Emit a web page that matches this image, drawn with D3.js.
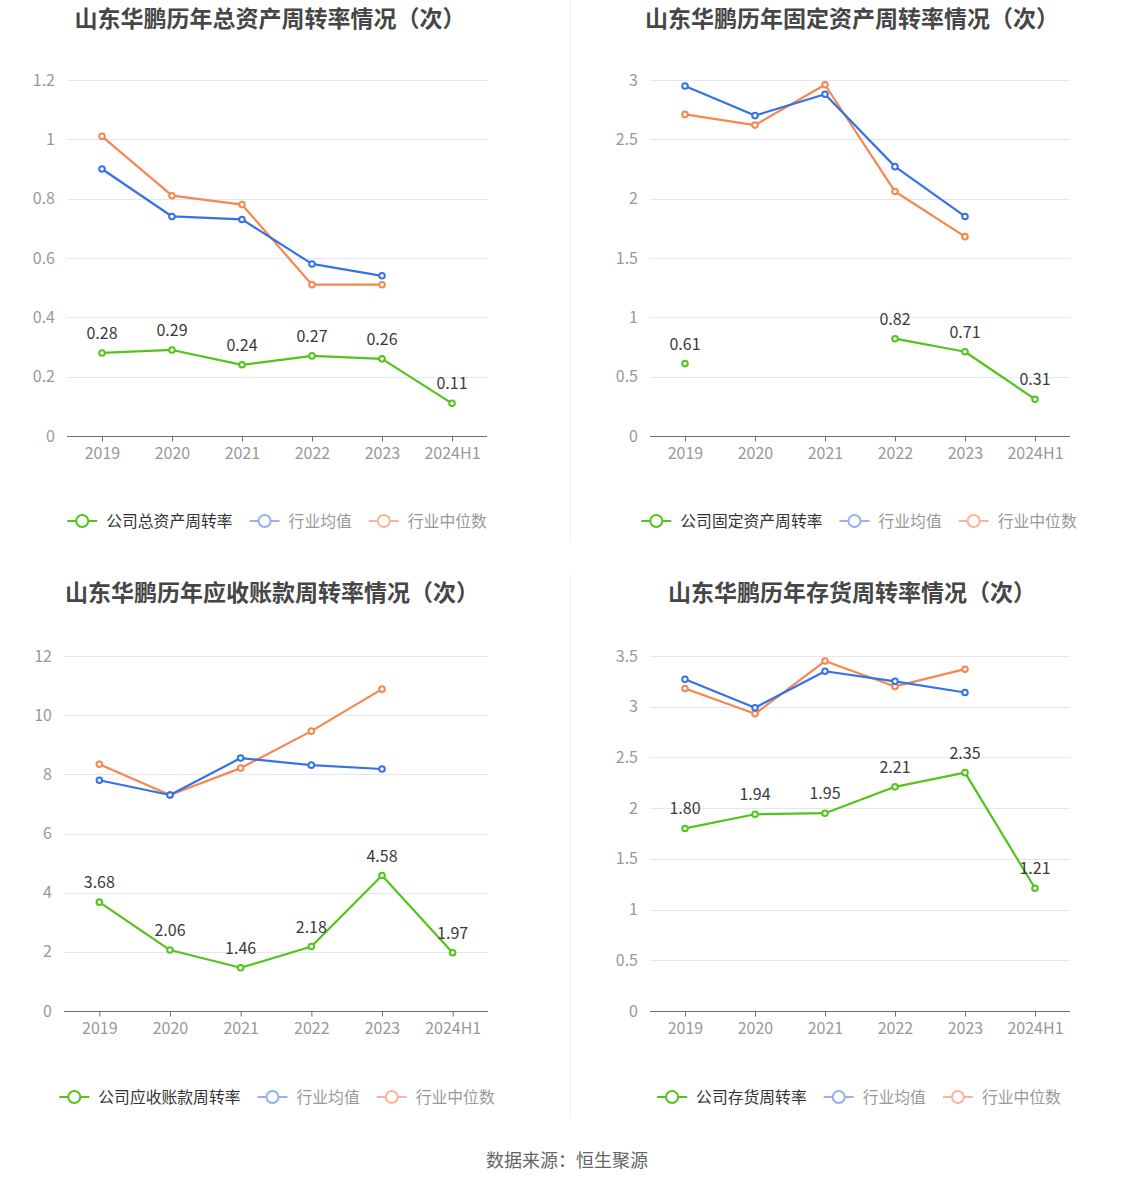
<!DOCTYPE html>
<html><head><meta charset="utf-8">
<script src="https://cdn.jsdelivr.net/npm/d3@7"></script>
<style>
html,body{margin:0;padding:0;background:#fff;}
svg{display:block;font-family:"Noto Sans CJK SC","Noto Sans",sans-serif;}
</style></head>
<body>
<svg id="c" width="1134" height="1188"></svg>
<script>
const categories = ["2019","2020","2021","2022","2023","2024H1"];

const totalAssetCompany = [0.28,0.29,0.24,0.27,0.26,0.11];
const totalAssetAvg     = [0.90,0.74,0.73,0.58,0.54,null];
const totalAssetMedian  = [1.01,0.81,0.78,0.51,0.51,null];
const totalAssetTicks   = [0,0.2,0.4,0.6,0.8,1,1.2];

const fixedAssetCompany = [0.61,null,null,0.82,0.71,0.31];
const fixedAssetAvg     = [2.95,2.70,2.88,2.27,1.85,null];
const fixedAssetMedian  = [2.71,2.62,2.96,2.06,1.68,null];
const fixedAssetTicks   = [0,0.5,1,1.5,2,2.5,3];

const receivableCompany = [3.68,2.06,1.46,2.18,4.58,1.97];
const receivableAvg     = [7.80,7.30,8.55,8.31,8.18,null];
const receivableMedian  = [8.34,7.30,8.21,9.46,10.88,null];
const receivableTicks   = [0,2,4,6,8,10,12];

const inventoryCompany  = [1.80,1.94,1.95,2.21,2.35,1.21];
const inventoryAvg      = [3.27,2.99,3.35,3.25,3.14,null];
const inventoryMedian   = [3.18,2.93,3.45,3.20,3.37,null];
const inventoryTicks    = [0,0.5,1,1.5,2,2.5,3,3.5];

const titles = ["山东华鹏历年总资产周转率情况（次）","山东华鹏历年固定资产周转率情况（次）","山东华鹏历年应收账款周转率情况（次）","山东华鹏历年存货周转率情况（次）"];
const companyNames = ["公司总资产周转率","公司固定资产周转率","公司应收账款周转率","公司存货周转率"];
const avgName = "行业均值", medianName = "行业中位数";
const sourceText = "数据来源：恒生聚源";

const GREEN="#52c41a", BLUE="#3572e6", ORANGE="#f7864f";
const BLUE_L="#92b2f2", ORANGE_L="#fbb49a";

const panels = [
  {title:titles[0], name:companyNames[0], company:totalAssetCompany, avg:totalAssetAvg, median:totalAssetMedian, ticks:totalAssetTicks,
   x0:67,x1:487,y0:436,y1:80,titleX:270,titleY:19,legendX:277,legendY:521},
  {title:titles[1], name:companyNames[1], company:fixedAssetCompany, avg:fixedAssetAvg, median:fixedAssetMedian, ticks:fixedAssetTicks,
   x0:650,x1:1070,y0:436,y1:80,titleX:852,titleY:19,legendX:859,legendY:521},
  {title:titles[2], name:companyNames[2], company:receivableCompany, avg:receivableAvg, median:receivableMedian, ticks:receivableTicks,
   x0:64,x1:488,y0:1011,y1:656,titleX:272,titleY:593,legendX:277,legendY:1097},
  {title:titles[3], name:companyNames[3], company:inventoryCompany, avg:inventoryAvg, median:inventoryMedian, ticks:inventoryTicks,
   x0:650,x1:1070,y0:1011,y1:656,titleX:852,titleY:593,legendX:859,legendY:1097}
];

const svg = d3.select("#c");

svg.append("line").attr("x1",570.5).attr("x2",570.5).attr("y1",0).attr("y2",541).attr("stroke","#eeeeee");
svg.append("line").attr("x1",570.5).attr("x2",570.5).attr("y1",575).attr("y2",1117).attr("stroke","#eeeeee");

panels.forEach(p=>{
  const g = svg.append("g");
  const x = d3.scalePoint().domain(categories).range([p.x0,p.x1]).padding(0.5);
  const yMax = p.ticks[p.ticks.length-1];
  const y = d3.scaleLinear().domain([0,yMax]).range([p.y0,p.y1]);

  g.append("text").attr("x",p.titleX).attr("y",p.titleY).attr("dy","0.36em").attr("text-anchor","middle")
    .attr("font-size",23).attr("font-weight","bold").attr("fill","#464646").text(p.title);

  g.selectAll(".grid").data(p.ticks.filter(t=>t>0)).enter().append("line")
    .attr("x1",p.x0).attr("x2",p.x1).attr("y1",d=>Math.round(y(d))+0.5).attr("y2",d=>Math.round(y(d))+0.5)
    .attr("stroke","#e3e7f1").attr("stroke-width",1);

  const ya = g.append("g").attr("transform",`translate(${p.x0-9},0)`)
    .call(d3.axisLeft(y).tickValues(p.ticks).tickFormat(d3.format("")).tickSize(0));
  ya.select(".domain").remove();
  ya.selectAll("text").attr("font-size",16).attr("fill","#999").attr("font-family","'Noto Sans CJK SC','Noto Sans',sans-serif");

  const xa = g.append("g").attr("transform",`translate(0,${Math.round(p.y0)+0.5})`)
    .call(d3.axisBottom(x).tickSize(5).tickPadding(6));
  xa.select(".domain").attr("d",`M${p.x0},0H${p.x1}`).attr("stroke","#6e7079");
  xa.selectAll(".tick line").attr("stroke","#6e7079");
  xa.selectAll("text").attr("font-size",16).attr("fill","#999").attr("font-family","'Noto Sans CJK SC','Noto Sans',sans-serif");

  const series = [
    {vals:p.median,color:ORANGE},
    {vals:p.avg,color:BLUE},
    {vals:p.company,color:GREEN,labels:true}
  ];
  series.forEach(s=>{
    const pts = categories.map((c,i)=>({c,v:s.vals[i]}));
    const line = d3.line().defined(d=>d.v!=null).x(d=>x(d.c)).y(d=>y(d.v));
    g.append("path").datum(pts).attr("d",line).attr("fill","none").attr("stroke",s.color).attr("stroke-width",2.2).attr("stroke-linejoin","round");
    g.selectAll(null).data(pts.filter(d=>d.v!=null)).enter().append("circle")
      .attr("cx",d=>x(d.c)).attr("cy",d=>y(d.v)).attr("r",2.8)
      .attr("fill","#fff").attr("stroke",s.color).attr("stroke-width",2);
    if(s.labels){
      g.selectAll(null).data(pts.filter(d=>d.v!=null)).enter().append("text")
        .attr("x",d=>x(d.c)).attr("y",d=>y(d.v)-14).attr("text-anchor","middle")
        .attr("font-size",16).attr("fill","#3a3a3a").text(d=>d.v.toFixed(2));
    }
  });

  const items = [
    {name:p.name,color:GREEN,text:"#333"},
    {name:avgName,color:BLUE_L,text:"#999"},
    {name:medianName,color:ORANGE_L,text:"#999"}
  ];
  const fs = 15.8;
  const iconW = 30, gapIT = 9, gapItems = 17;
  const lg = g.append("g");
  let cx = 0;
  items.forEach(it=>{
    const ig = lg.append("g").attr("transform",`translate(${cx},0)`);
    ig.append("line").attr("x1",0).attr("x2",iconW).attr("y1",0).attr("y2",0).attr("stroke",it.color).attr("stroke-width",2);
    ig.append("circle").attr("cx",iconW/2).attr("cy",0).attr("r",6).attr("fill","#fff").attr("stroke",it.color).attr("stroke-width",2);
    const t = ig.append("text").attr("x",iconW+gapIT).attr("y",0).attr("dy","0.35em").attr("font-size",fs).attr("fill",it.text).text(it.name);
    const w = t.node().getComputedTextLength();
    cx += iconW+gapIT+w+gapItems;
  });
  const total = cx-gapItems;
  lg.attr("transform",`translate(${p.legendX-total/2},${p.legendY})`);
});

svg.append("text").attr("x",567).attr("y",1161).attr("dy","0.35em").attr("text-anchor","middle")
  .attr("font-size",18).attr("fill","#666").text(sourceText);
</script>
</body></html>
